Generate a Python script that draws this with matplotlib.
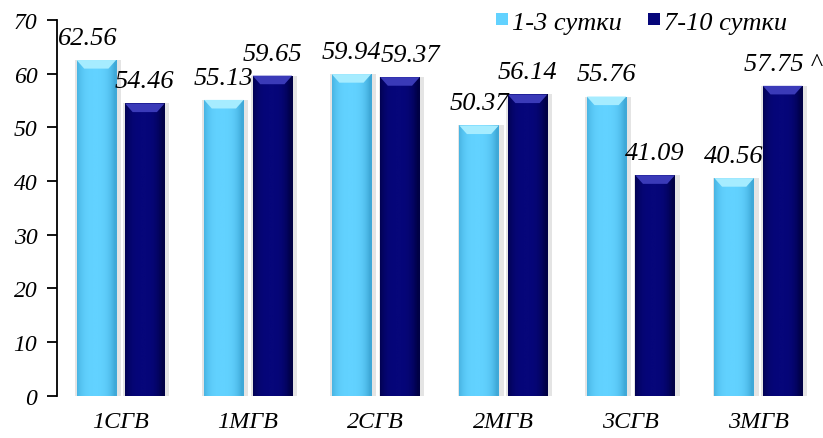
import numpy as np
import matplotlib.pyplot as plt
from matplotlib.patches import Polygon, Patch
from matplotlib.colors import LinearSegmentedColormap

plt.rcParams['font.family'] = ['Liberation Serif', 'DejaVu Serif']
plt.rcParams['font.style'] = 'italic'

groups = ['1СГВ', '1МГВ', '2СГВ', '2МГВ', '3СГВ', '3МГВ']
early = [62.56, 55.13, 59.94, 50.37, 55.76, 40.56]
late = [54.46, 59.65, 59.37, 56.14, 41.09, 57.75]
series_names = ['1-3 сутки', '7-10 сутки']
late_marks = ['', '', '', '', '', ' ^']

# small sideways nudges so neighbouring value labels don't collide
early_nudge = [-0.07, 0, 0, 0, 0, 0]
late_nudge = [0, 0, 0.085, 0, 0, 0]

light = '#62d2ff'
dark = '#06067a'

fig = plt.figure(figsize=(8.23, 4.39), dpi=100)
ax = fig.add_axes([0.069, 0.096, 0.93, 0.856])

x = np.arange(len(groups))
w = 0.31
off = 0.19


def fancy_bars(xs, vals, base, edge_dark, top_col):
    bars = ax.bar(xs, vals, w, color=base, zorder=3)
    cm = LinearSegmentedColormap.from_list('c', [edge_dark, base])
    for b in bars:
        x0, y0 = b.get_x(), b.get_y()
        bw, bh = b.get_width(), b.get_height()
        # soft grey shadow behind the bar
        ax.bar(x0 + bw / 2 + 0.012, bh + 0.3, bw + 0.05, bottom=-0.3,
               color='#e4e4e4', zorder=2)
        # horizontal shading across the bar
        g = np.linspace(0, 1, 64)
        prof = 1 - 0.35 * (np.abs(g - 0.45) * 2) ** 3
        grad = np.outer(np.ones(2), prof)
        im = ax.imshow(grad, cmap=cm, vmin=0.65, vmax=1, aspect='auto',
                       extent=[x0, x0 + bw, y0, y0 + bh], zorder=3.5)
        im.set_clip_path(b)
        # bevelled top
        dy = 1.6
        dx = 0.06
        top = y0 + bh
        bev = Polygon([[x0, top], [x0 + bw, top], [x0 + bw - dx, top - dy],
                       [x0 + dx, top - dy]], closed=True, color=top_col,
                      zorder=4, lw=0)
        ax.add_patch(bev)
    return bars


fancy_bars(x - off, early, light, '#3fa9d8', '#a6ecff')
fancy_bars(x + off, late, dark, '#000045', '#3a3ab8')

for i in range(len(groups)):
    ax.text(x[i] - off + early_nudge[i], early[i] + 3.0, f'{early[i]:.2f}',
            ha='center', va='baseline', fontsize=19, zorder=6)
    ax.text(x[i] + off + late_nudge[i], late[i] + 3.0,
            f'{late[i]:.2f}' + late_marks[i],
            ha='center', va='baseline', fontsize=19, zorder=6)

ax.set_xlim(-0.5, len(groups) - 0.5)
ax.set_ylim(0, 70)
ax.set_yticks(range(0, 71, 10))
ax.set_xticks(x)
ax.set_xticklabels(groups, fontsize=17.5)
ax.tick_params(axis='y', labelsize=17, length=7, width=1.3, direction='out', pad=7)
ax.tick_params(axis='x', length=0, pad=11)
for s in ['top', 'right', 'bottom']:
    ax.spines[s].set_visible(False)
ax.spines['left'].set_linewidth(1.3)

handles = [Patch(facecolor=light, edgecolor='none'),
           Patch(facecolor=dark, edgecolor='none')]
ax.legend(handles, series_names, loc='upper right', bbox_to_anchor=(0.954, 1.022),
          ncol=2, frameon=False, fontsize=19, handlelength=0.45,
          handleheight=0.3, handletextpad=0.15, columnspacing=1.0,
          borderpad=0, borderaxespad=0)

fig.savefig('out.png', dpi=100)
